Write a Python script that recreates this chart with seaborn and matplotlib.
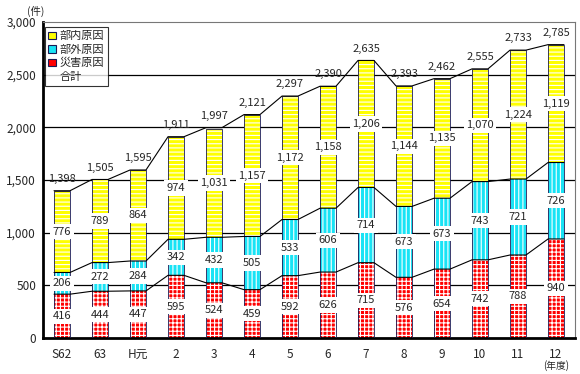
import numpy as np
import pandas as pd
import matplotlib
matplotlib.use("Agg")
import matplotlib.pyplot as plt
import seaborn as sns
from matplotlib.patches import Patch
from matplotlib.ticker import FuncFormatter, FixedLocator

years = ["S62", "63", "H元", "2", "3", "4", "5", "6", "7", "8", "9", "10", "11", "12"]
disaster = [416, 444, 447, 595, 524, 459, 592, 626, 715, 576, 654, 742, 788, 940]
external = [206, 272, 284, 342, 432, 505, 533, 606, 714, 673, 673, 743, 721, 726]
internal = [776, 789, 864, 974, 1031, 1157, 1172, 1158, 1206, 1144, 1135, 1070, 1224, 1119]
totals = [1398, 1505, 1595, 1911, 1997, 2121, 2297, 2390, 2635, 2393, 2462, 2555, 2733, 2785]

series_names = ["部内原因", "部外原因", "災害原因", "合計"]

RED = "#ff0000"
CYAN = "#19e3f5"
YELLOW = "#ffff00"

df = pd.DataFrame({"year": years, "disaster": disaster,
                   "external": external, "internal": internal, "total": totals})
df["cum1"] = df["disaster"]
df["cum2"] = df["disaster"] + df["external"]
df["cum3"] = df["cum2"] + df["internal"]

sns.set_theme(style="white")
plt.rcParams["font.family"] = ["Noto Sans CJK JP", "DejaVu Sans"]
plt.rcParams["hatch.linewidth"] = 0.8

fig = plt.figure(figsize=(5.8, 3.74), dpi=100)
ax = fig.add_axes([43 / 580, 36 / 374, 532 / 580, 316 / 374])

W = 0.42
# gridlines
for v in [500, 1000, 1500, 2000, 2500]:
    ax.axhline(v, color="black", lw=0.9, zorder=0)

# stacked bars drawn as overlays of cumulative sums
sns.barplot(data=df, x="year", y="cum3", color=YELLOW, saturation=1, width=W,
            hatch="----", edgecolor="white", linewidth=0, errorbar=None, ax=ax, zorder=2)
sns.barplot(data=df, x="year", y="cum2", color=CYAN, saturation=1, width=W,
            hatch="||||", edgecolor="white", linewidth=0, errorbar=None, ax=ax, zorder=2)
sns.barplot(data=df, x="year", y="cum1", color=RED, saturation=1, width=W,
            hatch="++++", edgecolor="white", linewidth=0, errorbar=None, ax=ax, zorder=2)
sns.barplot(data=df, x="year", y="cum3", fill=False, color="#1a1a55", width=W,
            linewidth=0.6, errorbar=None, ax=ax, zorder=3)

# connecting lines between bar corners
idx = np.arange(len(years))
xs = (np.repeat(idx, 2) + np.tile([-W / 2, W / 2], len(years))).astype(float)
for col in ["cum1", "cum2", "total"]:
    ys = np.repeat(df[col].values, 2).astype(float)
    sns.lineplot(x=xs, y=ys, sort=False, estimator=None, color="black",
                 lw=0.8, ax=ax, zorder=4)

# value labels
bbox = dict(facecolor="white", edgecolor="none", pad=1.8)
for i in idx:
    ax.text(i, df["disaster"][i] / 2, f"{disaster[i]:,}", ha="center", va="center",
            fontsize=8, bbox=bbox, zorder=6)
    ax.text(i, df["cum1"][i] + external[i] / 2, f"{external[i]:,}", ha="center",
            va="center", fontsize=8, bbox=bbox, zorder=6)
    ax.text(i, df["cum2"][i] + internal[i] / 2, f"{internal[i]:,}", ha="center",
            va="center", fontsize=8, bbox=bbox, zorder=6)
    ax.annotate(f"{totals[i]:,}", (i, totals[i]), xytext=(0, 5),
                textcoords="offset points", ha="center", va="bottom",
                fontsize=8, zorder=6)

ax.set_xlim(-0.5, len(years) - 0.5)
ax.set_ylim(0, 3000)
ax.set_yticks(range(0, 3001, 500))
ax.yaxis.set_major_formatter(FuncFormatter(lambda v, p: f"{int(v):,}"))
ax.set_xlabel("")
ax.set_ylabel("")
ax.tick_params(axis="y", length=0, labelsize=8.5, pad=5)
ax.tick_params(axis="x", length=0, labelsize=8.5, pad=7)
ax.xaxis.set_minor_locator(FixedLocator(idx[:-1] + 0.5))
ax.tick_params(axis="x", which="minor", direction="in", length=3, width=0.8, color="black")

for s in ["left", "bottom"]:
    ax.spines[s].set_color("black")
    ax.spines[s].set_linewidth(2)
for s in ["top", "right"]:
    ax.spines[s].set_color("#777777")
    ax.spines[s].set_linewidth(0.8)

fig.text(27 / 580, 1 - 11 / 374, "(件)", fontsize=7.5, va="center", ha="left")
fig.text(556 / 580, 1 - 366 / 374, "(年度)", fontsize=7, va="center", ha="center")

handles = [Patch(facecolor=YELLOW, edgecolor="#1a1a55", lw=0.8),
           Patch(facecolor=CYAN, edgecolor="#1a1a55", lw=0.8),
           Patch(facecolor=RED, edgecolor="#1a1a55", lw=0.8),
           Patch(facecolor="none", edgecolor="none")]
leg = ax.legend(handles, series_names, loc="upper left", bbox_to_anchor=(0.003, 0.983),
                fontsize=8, frameon=True, fancybox=False, edgecolor="black",
                handlelength=0.7, handleheight=0.7, handletextpad=0.3,
                labelspacing=0.3, borderpad=0.35, borderaxespad=0)
leg.get_frame().set_linewidth(0.8)
leg.set_zorder(10)

fig.savefig("out.png", dpi=100, facecolor="white")
